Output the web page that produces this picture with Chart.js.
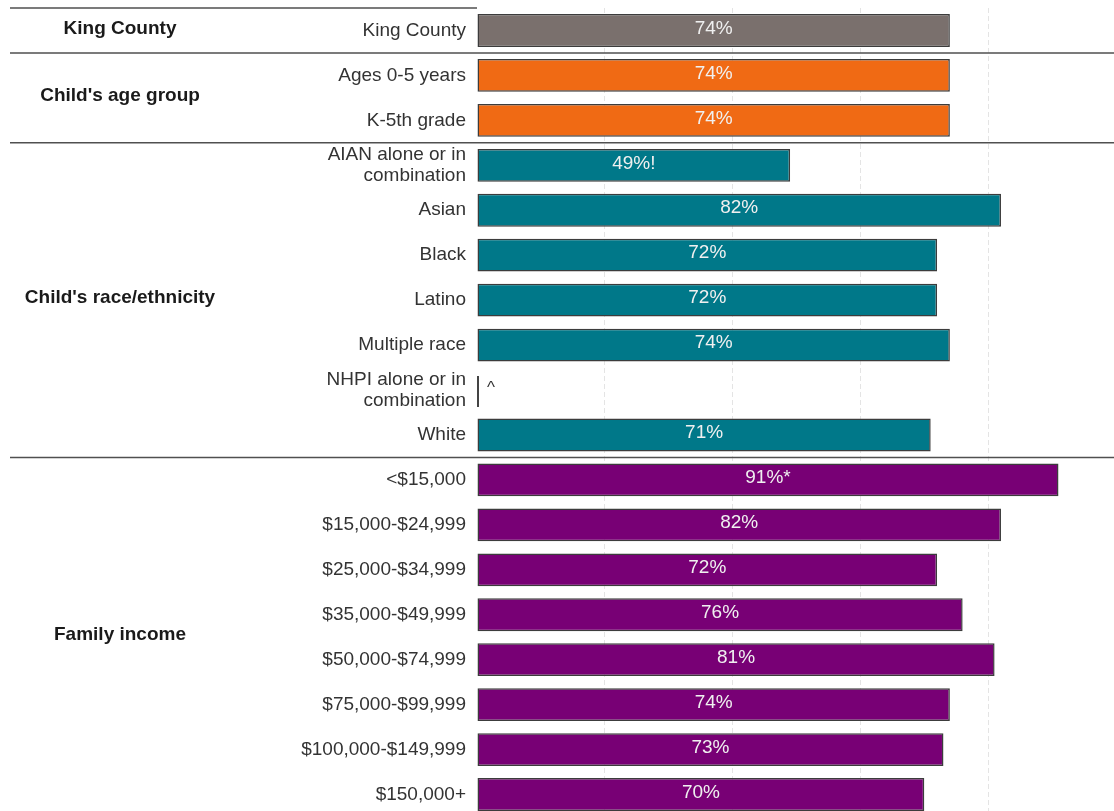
<!DOCTYPE html>
<html>
<head>
<meta charset="utf-8">
<script src="https://cdn.jsdelivr.net/npm/chart.js@4.4.1/dist/chart.umd.min.js"></script>
<style>
  html, body { margin: 0; padding: 0; background: #fff; overflow: hidden; }
  #wrap { position: relative; width: 1116px; height: 820px; }
</style>
</head>
<body>
<div id="wrap"><canvas id="chart"></canvas></div>
<script>
// ─── DATA ─────────────────────────────────────────────────────────────────
const categories = [
  'King County',
  'Ages 0-5 years',
  'K-5th grade',
  ['AIAN alone or in', 'combination'],
  'Asian',
  'Black',
  'Latino',
  'Multiple race',
  ['NHPI alone or in', 'combination'],
  'White',
  '<$15,000',
  '$15,000-$24,999',
  '$25,000-$34,999',
  '$35,000-$49,999',
  '$50,000-$74,999',
  '$75,000-$99,999',
  '$100,000-$149,999',
  '$150,000+',
];
const values = [74, 74, 74, 49, 82, 72, 72, 74, null, 71, 91, 82, 72, 76, 81, 74, 73, 70];
const notes  = ['', '', '', '!', '', '', '', '', '^', '', '*', '', '', '', '', '', '', ''];

const groups      = ['King County', "Child's age group", "Child's race/ethnicity", 'Family income'];
const groupOf     = [0, 1, 1, 2, 2, 2, 2, 2, 2, 2, 3, 3, 3, 3, 3, 3, 3, 3];
const groupColors = ['#7a706d', '#f06a14', '#007889', '#780075'];

const xTicks = [0, 20, 40, 60, 80, 100];

const FONT = "'Liberation Sans', Arial, sans-serif";

// ─── PLUGIN: bar labels, group labels, separators ─────────────────────────
const decorPlugin = {
  id: 'decor',
  beforeDatasetsDraw(chart) {
    const { ctx, scales: { x, y } } = chart;
    // NHPI: suppressed value -> only a thin mark at zero
    values.forEach((v, i) => {
      if (v !== null) return;
      const yc = y.getPixelForValue(i);
      const x0 = x.getPixelForValue(0);
      ctx.save();
      ctx.strokeStyle = '#444';
      ctx.lineWidth = 2;
      ctx.beginPath();
      ctx.moveTo(x0 + 1, yc - 14);
      ctx.lineTo(x0 + 1, yc + 17);
      ctx.stroke();
      ctx.fillStyle = '#333';
      ctx.font = `17px ${FONT}`;
      ctx.textAlign = 'left';
      ctx.textBaseline = 'middle';
      ctx.fillText(notes[i], x0 + 10, yc - 2);
      ctx.restore();
    });
  },
  afterDatasetsDraw(chart) {
    const { ctx } = chart;
    const meta = chart.getDatasetMeta(0);
    ctx.save();
    ctx.font = `19px ${FONT}`;
    ctx.fillStyle = '#f0f0f0';
    ctx.textAlign = 'center';
    ctx.textBaseline = 'middle';
    meta.data.forEach((bar, i) => {
      if (values[i] === null) return;
      const cx = (bar.x + bar.base) / 2;
      ctx.fillText(values[i] + '%' + notes[i], cx, bar.y - 2);
    });
    ctx.restore();
  },
  afterDraw(chart) {
    const { ctx, chartArea, scales: { y } } = chart;
    const right = chart.width;
    ctx.save();

    // separators between groups
    ctx.strokeStyle = '#505050';
    ctx.lineWidth = 1.5;
    ctx.beginPath();
    ctx.moveTo(10, chartArea.top);
    ctx.lineTo(chartArea.left, chartArea.top);
    for (let i = 1; i < groupOf.length; i++) {
      if (groupOf[i] === groupOf[i - 1]) continue;
      const yy = (y.getPixelForValue(i - 1) + y.getPixelForValue(i)) / 2;
      ctx.moveTo(10, yy);
      ctx.lineTo(right, yy);
    }
    ctx.stroke();

    // group labels
    ctx.font = `bold 19px ${FONT}`;
    ctx.fillStyle = '#1a1a1a';
    ctx.textAlign = 'center';
    ctx.textBaseline = 'middle';
    groups.forEach((g, gi) => {
      const idx = groupOf.map((v, i) => v === gi ? i : -1).filter(i => i >= 0);
      const y0 = y.getPixelForValue(idx[0]);
      const y1 = y.getPixelForValue(idx[idx.length - 1]);
      ctx.fillText(g, 120, (y0 + y1) / 2 - 2);
    });
    ctx.restore();
  },
};

// ─── CHART ────────────────────────────────────────────────────────────────
new Chart(document.getElementById('chart'), {
  type: 'bar',
  data: {
    labels: categories,
    datasets: [{
      data: values,
      backgroundColor: groupOf.map(g => groupColors[g]),
      borderColor: '#3c3c3c',
      borderWidth: 1.5,
      borderSkipped: false,
      barPercentage: 0.73,
      categoryPercentage: 1,
    }],
  },
  options: {
    indexAxis: 'y',
    responsive: true,
    maintainAspectRatio: false,
    animation: false,
    layout: { padding: { top: 8, bottom: 3, left: 0, right: 0 } },
    plugins: {
      legend: { display: false },
      tooltip: { enabled: false },
    },
    scales: {
      x: {
        min: 0,
        max: 100,
        afterBuildTicks: s => { s.ticks = xTicks.map(v => ({ value: v })); },
        afterFit: s => { s.height = 0; s.paddingLeft = 0; s.paddingRight = 0; },
        ticks: { display: false },
        border: { display: false, dash: [5, 3] },
        grid: {
          drawTicks: false,
          color: ctx => (ctx.tick.value === 0 || ctx.tick.value === 100) ? 'rgba(0,0,0,0)' : '#e4e4e4',
          lineWidth: 1,
        },
      },
      y: {
        afterFit: s => { s.width = 477; s.paddingTop = 0; s.paddingBottom = 0; },
        border: { display: false },
        grid: { display: false, drawTicks: false },
        ticks: {
          padding: 11,
          color: '#333',
          font: { family: FONT, size: 19, lineHeight: 1.1 },
        },
      },
    },
  },
  plugins: [decorPlugin],
});
</script>
</body>
</html>
